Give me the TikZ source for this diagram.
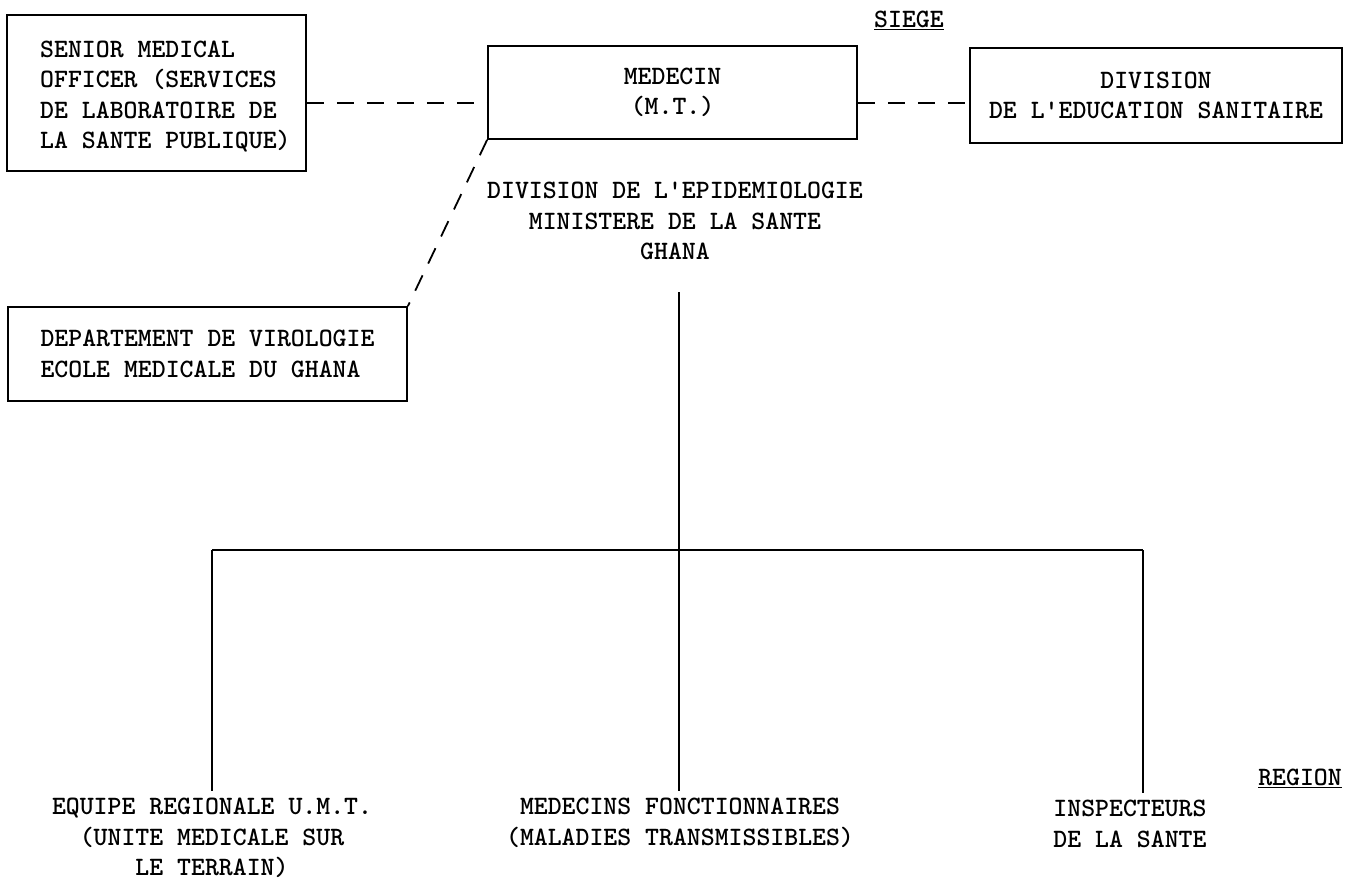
\documentclass[tikz,border=0pt]{standalone}
\usepackage{fontspec}
\tikzset{
  every node/.style={font=\ttfamily\bfseries\fontsize{26.5}{30.5}\selectfont, text=black},
  orgbox/.style={draw, line width=1.8pt, inner sep=0pt},
  plain/.style={inner sep=0pt, align=center},
  dashlink/.style={line width=1.8pt, dash pattern=on 17pt off 13pt},
  solidlink/.style={line width=1.6pt},
}
\begin{document}
\begin{tikzpicture}[x=1pt,y=-1pt]
\useasboundingbox (0,0) rectangle (1360,881);
% boxes
\node[orgbox, minimum width=299pt, minimum height=156pt] (smo) at (156.5,93) {};
\node[plain, align=left, anchor=west] (smotext) at (40,96.5)
  {SENIOR MEDICAL\\OFFICER (SERVICES\\DE LABORATOIRE DE\\LA SANTE PUBLIQUE)};
\node[orgbox, minimum width=369pt, minimum height=93pt, align=center] (med) at (672.5,92.5)
  {MEDECIN\\(M.T.)};
\node[orgbox, minimum width=372pt, minimum height=95pt, align=center] (div) at (1156,95.5)
  {DIVISION\\DE L'EDUCATION SANITAIRE};
\node[orgbox, minimum width=399pt, minimum height=94pt, align=left] (dep) at (207.5,354)
  {DEPARTEMENT DE VIROLOGIE\\ECOLE MEDICALE DU GHANA};
% labels
\node[plain] (siege) at (909,20) {\underline{SIEGE}};
\node[plain] (region) at (1300,778) {\underline{REGION}};
\node[plain] (epi) at (675,221)
  {DIVISION DE L'EPIDEMIOLOGIE\\MINISTERE DE LA SANTE\\GHANA};
% bottom units
\node[plain, anchor=north, inner ysep=7pt] (equipe) at (212,791)
  {EQUIPE REGIONALE U.M.T.\\(UNITE MEDICALE SUR\\LE TERRAIN)};
\node[plain, anchor=north, inner ysep=7pt] (medfonc) at (680,791)
  {MEDECINS FONCTIONNAIRES\\(MALADIES TRANSMISSIBLES)};
\node[plain, anchor=north, inner ysep=7pt, align=left] (insp) at (1130,793)
  {INSPECTEURS\\DE LA SANTE};
% tree coordinates
\coordinate (top) at (679,292);
\coordinate (barL) at (212,550);
\coordinate (barR) at (1143,550);
% dashed links
\draw[dashlink] ([yshift=-10pt]smo.east) -- ([yshift=-10pt]smo.east -| med.west);
\draw[dashlink] ([yshift=-10.5pt]med.east) -- ([yshift=-10.5pt]med.east -| div.west);
\draw[dashlink] (med.south west) -- (dep.north east);
% solid tree
\draw[solidlink] (top) -- (top |- medfonc.north);
\draw[solidlink] (barL) -- (barR);
\draw[solidlink] (barL) -- (barL |- equipe.north);
\draw[solidlink] (barR) -- (barR |- insp.north);
\end{tikzpicture}
\end{document}
